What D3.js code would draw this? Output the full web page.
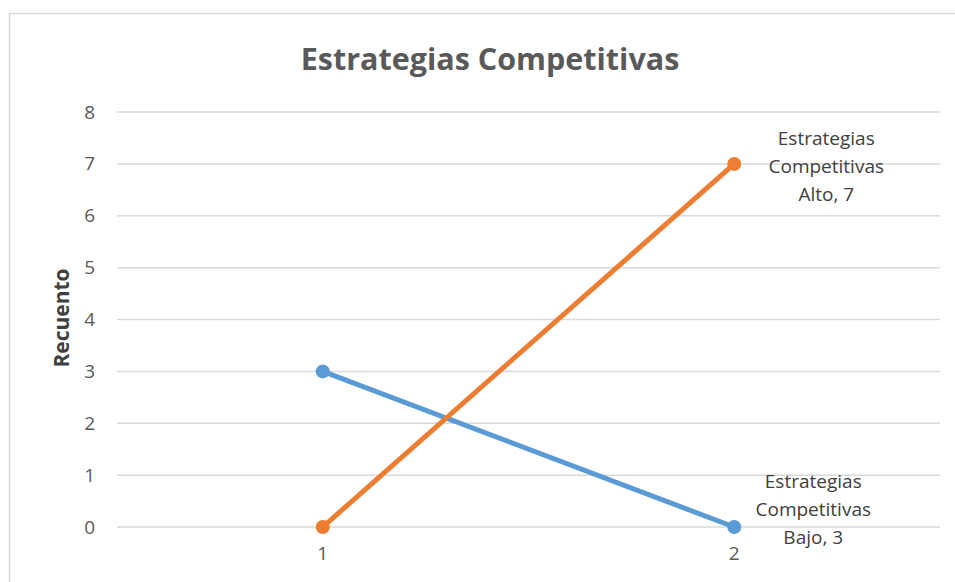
<!DOCTYPE html>
<html>
<head>
    <meta charset="utf-8">
    <title>Estrategias Competitivas</title>
    <script src="https://d3js.org/d3.v7.min.js"></script>
    <style>
        body { margin: 0; background: #fff; }
        svg { display: block; font-family: "Open Sans", "Noto Sans", sans-serif; }
    </style>
</head>
<body>
    <svg width="955" height="582"></svg>
    <script>
        // data
        var categories = ["1", "2"];
        var bajo = [3, 0];
        var alto = [0, 7];
        var yTicks = [0, 1, 2, 3, 4, 5, 6, 7, 8];
        var labelText = {
            alto: ["Estrategias", "Competitivas", "Alto, 7"],
            bajo: ["Estrategias", "Competitivas", "Bajo, 3"]
        };

        var svg = d3.select("svg");
        var margin = { top: 112, right: 15, bottom: 55, left: 117 },
            width = 940 - margin.left,
            height = 527 - margin.top;

        // chart frame
        svg.append("rect")
            .attr("x", 9.5).attr("y", 13.5)
            .attr("width", 1000).attr("height", 1000)
            .attr("fill", "none")
            .attr("stroke", "#d9d9d9")
            .attr("stroke-width", 1.5);

        svg.append("text")
            .attr("x", 490).attr("y", 70)
            .attr("text-anchor", "middle")
            .attr("fill", "#595959")
            .style("font-size", "30.5px")
            .style("font-weight", "bold")
            .text("Estrategias Competitivas");

        var g = svg.append("g").attr("transform", "translate(" + margin.left + "," + margin.top + ")");

        var x = d3.scaleBand().domain(categories).range([0, width]);
        var y = d3.scaleLinear().domain([0, 8]).range([height, 0]);
        var cx = function(c) { return x(c) + x.bandwidth() / 2; };

        // gridlines
        g.append("g")
            .selectAll("line")
            .data(yTicks)
            .enter().append("line")
            .attr("x1", 0).attr("x2", width)
            .attr("y1", function(d) { return y(d); })
            .attr("y2", function(d) { return y(d); })
            .attr("stroke", "#d9d9d9")
            .attr("stroke-width", 1.5);

        var yAxis = g.append("g")
            .call(d3.axisLeft(y).tickValues(yTicks).tickSize(0).tickPadding(22));
        yAxis.select(".domain").remove();
        yAxis.selectAll("text")
            .attr("fill", "#595959")
            .style("font-size", "19px")
            .style("font-family", "Open Sans, sans-serif");

        var xAxis = g.append("g")
            .attr("transform", "translate(0," + height + ")")
            .call(d3.axisBottom(x).tickSize(0).tickPadding(20));
        xAxis.select(".domain").remove();
        xAxis.selectAll("text")
            .attr("fill", "#595959")
            .style("font-size", "19px")
            .style("font-family", "Open Sans, sans-serif");

        svg.append("text")
            .attr("transform", "translate(69,318) rotate(-90)")
            .attr("text-anchor", "middle")
            .attr("fill", "#404040")
            .style("font-size", "21px")
            .style("font-weight", "bold")
            .text("Recuento");

        var line = d3.line()
            .x(function(d, i) { return cx(categories[i]); })
            .y(function(d) { return y(d); });

        var series = [
            { key: "bajo", values: bajo, color: "#5b9bd5" },
            { key: "alto", values: alto, color: "#ed7d31" }
        ];

        series.forEach(function(s) {
            g.append("path")
                .datum(s.values)
                .attr("fill", "none")
                .attr("stroke", s.color)
                .attr("stroke-width", 5)
                .attr("stroke-linecap", "round")
                .attr("d", line);

            g.append("g")
                .selectAll("circle")
                .data(s.values)
                .enter().append("circle")
                .attr("cx", function(d, i) { return cx(categories[i]); })
                .attr("cy", function(d) { return y(d); })
                .attr("r", 7)
                .attr("fill", s.color);
        });

        // data labels at the last point
        function addLabel(lines, xc, yTop) {
            var t = g.append("text")
                .attr("text-anchor", "middle")
                .attr("fill", "#404040")
                .style("font-size", "19px");
            lines.forEach(function(l, i) {
                t.append("tspan")
                    .attr("x", xc)
                    .attr("y", yTop + i * 28)
                    .text(l);
            });
        }
        addLabel(labelText.alto, cx("2") + 92, y(7) - 19);
        addLabel(labelText.bajo, cx("2") + 79, y(0) - 39);
    </script>
</body>
</html>
